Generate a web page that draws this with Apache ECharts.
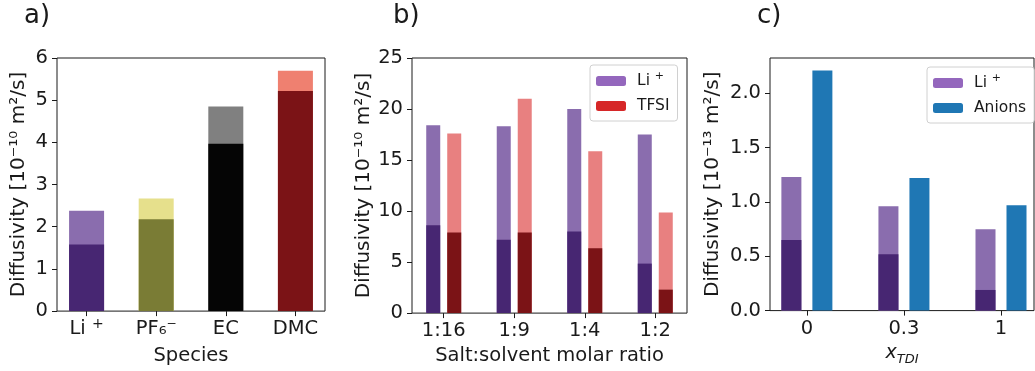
<!DOCTYPE html>
<html>
<head>
<meta charset="utf-8">
<script src="https://cdn.jsdelivr.net/npm/echarts@6/dist/echarts.min.js"></script>
<style>
  html, body { margin: 0; padding: 0; background: #fff; }
  #chart { width: 1035px; height: 371px; }
</style>
</head>
<body>
<div id="chart"></div>
<script>
// Panel a) species diffusivity
const speciesCats = ['Li\u207A', 'PF\u2086\u207B', 'EC', 'DMC'];
const speciesDark = [1.58, 2.18, 3.97, 5.22];
const speciesTotal = [2.38, 2.67, 4.85, 5.70];
const speciesDarkColors = ['#472672', '#7a7c35', '#050505', '#7b1316'];
const speciesLightColors = ['#8a6dae', '#e6e08c', '#808080', '#ef8070'];

// Panel b) salt:solvent ratios
const ratioCats = ['1:16', '1:9', '1:4', '1:2'];
const ratioLiDark = [8.6, 7.2, 8.0, 4.85];
const ratioLiTotal = [18.4, 18.3, 20.0, 17.5];
const ratioTfsiDark = [7.9, 7.9, 6.35, 2.3];
const ratioTfsiTotal = [17.6, 21.0, 15.85, 9.85];

// Panel c) x_TDI
const tdiCats = ['0', '0.3', '1'];
const tdiLiDark = [0.65, 0.52, 0.19];
const tdiLiTotal = [1.23, 0.96, 0.75];
const tdiAnions = [2.21, 1.22, 0.97];
const tdiTicks = [0, 0.5, 1.0, 1.5, 2.0];

const ink = '#1a1a1a';
const font = 'DejaVu Sans';
const tickSize = 19.5;

function xy(arr) {
    return arr.map((v, i) => [i, v]);
}
function idx(n) {
    return Array.from({ length: n }, (_, i) => i);
}
// matplotlib-like raised "+" on Li
function supPlus(s) {
    return s.replace('\u207A', ' {sup|+}');
}

// visible x axis (index 2*g) carries the light "total" bars,
// a hidden twin (index 2*g+1) carries the dark part drawn over them
function xAxesFor(gridIndex, cats, min, max, name, nameGap) {
    const shown = {
        gridIndex: gridIndex,
        type: 'value',
        min: min,
        max: max,
        name: name,
        nameLocation: 'middle',
        nameGap: nameGap,
        nameTextStyle: { fontSize: tickSize, color: ink, fontFamily: font },
        axisLine: { show: false, onZero: false },
        axisTick: { show: true, length: 5, lineStyle: { color: ink }, customValues: idx(cats.length) },
        axisLabel: {
            fontSize: tickSize, color: ink, fontFamily: font, margin: 8,
            customValues: idx(cats.length),
            formatter: v => cats[Math.round(v)]
        },
        splitLine: { show: false }
    };
    const twin = {
        gridIndex: gridIndex, type: 'value', min: min, max: max,
        position: 'bottom', show: false, axisLine: { onZero: false }
    };
    return [shown, twin];
}

function yAxisFor(gridIndex, opts) {
    return Object.assign({
        gridIndex: gridIndex,
        type: 'value',
        min: 0,
        nameLocation: 'middle',
        nameTextStyle: { fontSize: 20, color: ink, fontFamily: font },
        axisLine: { show: false, onZero: false },
        axisTick: { show: true, length: 5, lineStyle: { color: ink } },
        axisLabel: { fontSize: tickSize, color: ink, fontFamily: font, margin: 9 },
        splitLine: { show: false }
    }, opts);
}

function bar(name, xi, yi, data, color, width, extra) {
    return Object.assign({
        name: name,
        type: 'bar',
        xAxisIndex: xi,
        yAxisIndex: yi,
        data: data,
        barWidth: width,
        itemStyle: { color: color },
        animation: false
    }, extra || {});
}

const chart = echarts.init(document.getElementById('chart'));

const series = [];
// a) one bar per species, colour per bar
series.push(bar('light', 0, 0,
    speciesTotal.map((v, i) => ({ value: [i, v], itemStyle: { color: speciesLightColors[i] } })), null, 35));
series.push(bar('dark', 1, 0,
    speciesDark.map((v, i) => ({ value: [i, v], itemStyle: { color: speciesDarkColors[i] } })), null, 35));
// b)
series.push(bar('Li\u207A', 2, 1, xy(ratioLiTotal), '#8a6dae', 14));
series.push(bar('TFSI', 2, 1, xy(ratioTfsiTotal), '#e88080', 14, { barGap: '50%' }));
series.push(bar('Li\u207A dark', 3, 1, xy(ratioLiDark), '#472672', 14));
series.push(bar('TFSI dark', 3, 1, xy(ratioTfsiDark), '#7b1316', 14, { barGap: '50%' }));
// c)
series.push(bar('Li\u207A', 4, 2, xy(tdiLiTotal), '#8a6dae', 20));
series.push(bar('Anions', 4, 2, xy(tdiAnions), '#1f77b4', 20, { barGap: '55%' }));
series.push(bar('Li\u207A dark', 5, 2, xy(tdiLiDark), '#472672', 20));
series.push(bar('slot', 5, 2, [], '#ffffff', 20, { barGap: '55%' }));

const gridStyle = { show: true, borderColor: ink, borderWidth: 1, backgroundColor: 'transparent' };
const legendBase = {
    orient: 'vertical',
    itemWidth: 30,
    itemHeight: 10,
    itemGap: 5,
    padding: [6, 8, 5, 6],
    borderColor: '#d0d0d0',
    borderWidth: 1,
    borderRadius: 3,
    backgroundColor: '#fff',
    formatter: supPlus,
    textStyle: {
        fontSize: 15.5, color: ink, fontFamily: font, padding: [0, 0, 0, 6], lineHeight: 20,
        rich: { sup: { fontSize: 11, color: ink, fontFamily: font, verticalAlign: 'top', lineHeight: 12 } }
    },
    selectedMode: false
};
const titleStyle = { fontSize: 26, fontWeight: 'normal', color: ink, fontFamily: font };

const xAxesA = xAxesFor(0, speciesCats, -0.425, 3.425, 'Species', 29);
xAxesA[0].axisLabel.formatter = v => supPlus(speciesCats[Math.round(v)]);
xAxesA[0].axisLabel.lineHeight = 24;
xAxesA[0].axisLabel.margin = 6;
xAxesA[0].axisLabel.rich = { sup: { fontSize: 14, color: ink, fontFamily: font, verticalAlign: 'top', lineHeight: 14 } };

const xAxesC = xAxesFor(2, tdiCats, -0.38, 2.34, '{x|x}{s|TDI}', 25);
xAxesC[0].nameTextStyle = {
    rich: {
        x: { fontSize: 19, fontStyle: 'italic', color: ink, fontFamily: font, lineHeight: 26 },
        s: { fontSize: 13, fontStyle: 'italic', color: ink, fontFamily: font, verticalAlign: 'bottom' }
    }
};

const option = {
    textStyle: { fontFamily: font },
    title: [
        { text: 'a)', left: 24, top: 3, padding: 0, textStyle: titleStyle },
        { text: 'b)', left: 393, top: 3, padding: 0, textStyle: titleStyle },
        { text: 'c)', left: 757, top: 3, padding: 0, textStyle: titleStyle }
    ],
    legend: [
        Object.assign({}, legendBase, {
            left: 590, top: 65,
            data: [
                { name: 'Li\u207A', itemStyle: { color: '#9467bd' } },
                { name: 'TFSI', itemStyle: { color: '#d62728' } }
            ]
        }),
        Object.assign({}, legendBase, {
            left: 927, top: 67,
            data: [
                { name: 'Li\u207A', itemStyle: { color: '#9467bd' } },
                { name: 'Anions', itemStyle: { color: '#1f77b4' } }
            ]
        })
    ],
    grid: [
        Object.assign({ left: 57, top: 58, width: 268, height: 257 }, gridStyle),
        Object.assign({ left: 412, top: 58, width: 275, height: 257 }, gridStyle),
        Object.assign({ left: 770, top: 58, width: 264, height: 257 }, gridStyle)
    ],
    xAxis: [].concat(
        xAxesA,
        xAxesFor(1, ratioCats, -0.45, 3.45, 'Salt:solvent molar ratio', 28),
        xAxesC
    ),
    yAxis: [
        yAxisFor(0, { max: 6, interval: 1, name: 'Diffusivity [10\u207B\u00B9\u2070 m\u00B2/s]', nameGap: 28 }),
        yAxisFor(1, { max: 25, interval: 5, name: 'Diffusivity [10\u207B\u00B9\u2070 m\u00B2/s]', nameGap: 38 }),
        yAxisFor(2, {
            max: 2.326,
            name: 'Diffusivity [10\u207B\u00B9\u00B3 m\u00B2/s]',
            nameGap: 47,
            axisTick: { show: true, length: 5, lineStyle: { color: ink }, customValues: tdiTicks },
            axisLabel: {
                fontSize: tickSize, color: ink, fontFamily: font, margin: 9,
                customValues: tdiTicks,
                formatter: v => v.toFixed(1)
            }
        })
    ],
    series: series
};

chart.setOption(option);
</script>
</body>
</html>
